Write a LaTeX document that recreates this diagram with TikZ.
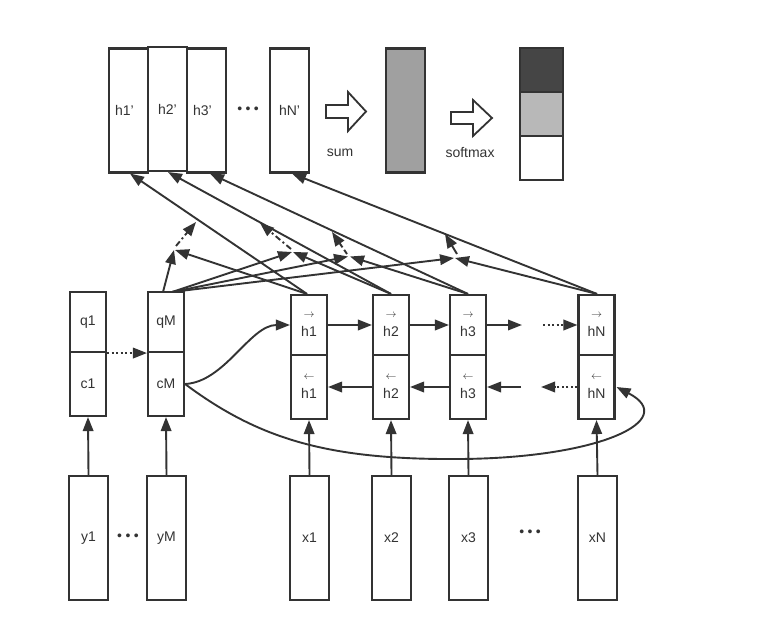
\documentclass[tikz,border=0pt]{standalone}
\usepackage{fontspec}
\setmainfont{Liberation Sans}
\usetikzlibrary{arrows.meta}
\definecolor{ink}{HTML}{333333}
\definecolor{midgray}{HTML}{A0A0A0}
\definecolor{darkcell}{HTML}{454545}
\definecolor{lightcell}{HTML}{B8B8B8}
\newcommand{\threedots}{•\hspace{3.4pt}•\hspace{3.4pt}•}
\newcommand{\fwd}{{\fontsize{11}{11}\selectfont$\rightarrow$}}
\newcommand{\bwd}{{\fontsize{11}{11}\selectfont$\leftarrow$}}
\begin{document}
\begin{tikzpicture}[x=1pt,y=-1pt,
  box/.style={draw=ink, line width=2.1pt, fill=white, minimum width=39pt, minimum height=124pt, inner sep=0pt, text=ink, font=\fontsize{14}{16}\selectfont},
  cell/.style={draw=ink, line width=2.1pt, fill=white, minimum width=36pt, inner sep=0pt, align=center, text=ink, font=\fontsize{14}{19}\selectfont},
  txt/.style={inner sep=0pt, text=ink, font=\fontsize{14}{16}\selectfont},
  link/.style={draw=ink, line width=1.9pt, -{Triangle[length=14pt,width=10.5pt]}},
  blockarrow/.style={draw=ink, line width=1.8pt, fill=white, line join=miter},
  dotline/.style={dash pattern=on 2pt off 2.5pt},
  gatedash/.style={dash pattern=on 6pt off 3pt on 2pt off 3pt},
]
\useasboundingbox (0,0) rectangle (759,631);
% ---------- top row ----------
\node[box] (h1p) at (128.5,110.5) {\hspace*{-8pt}h1’};
\node[box] (h2p) at (167.5,109) {h2’};
\node[box] (h3p) at (206.5,110.5) {\hspace*{-8pt}h3’};
\node[txt] (dtop) at (248,110) {\threedots};
\node[box] (hNp) at (289.5,110.5) {hN’};
\draw[blockarrow] (326,105) -- (348,105) -- (348,92) -- (366,111.5) -- (348,131) -- (348,118) -- (326,118) -- cycle;
\node[txt] (sumlbl) at (340,153) {sum};
\node[box, fill=midgray] (sumbox) at (405.5,110.5) {};
\draw[blockarrow] (451,112) -- (473,112) -- (473,100) -- (492,118) -- (473,136) -- (473,124) -- (451,124) -- cycle;
\node[txt] (smlbl) at (470,153) {softmax};
\node[box, minimum width=43pt, minimum height=44pt, fill=darkcell] (sm1) at (541.5,70) {};
\node[box, minimum width=43pt, minimum height=44pt, fill=lightcell] (sm2) at (541.5,114) {};
\node[box, minimum width=43pt, minimum height=44pt] (sm3) at (541.5,158) {};
% ---------- middle row ----------
\node[cell, minimum height=60pt] (q1) at (88,322) {q1};
\node[cell, minimum height=64pt] (c1) at (88,384) {c1};
\node[cell, minimum height=60pt] (qM) at (166,322) {qM};
\node[cell, minimum height=64pt] (cM) at (166,384) {cM};
\node[cell, minimum height=60pt] (hf1) at (309,325) {\fwd\\h1};
\node[cell, minimum height=64pt] (hb1) at (309,387) {\bwd\\h1};
\node[cell, minimum height=60pt] (hf2) at (391,325) {\fwd\\h2};
\node[cell, minimum height=64pt] (hb2) at (391,387) {\bwd\\h2};
\node[cell, minimum height=60pt] (hf3) at (468,325) {\fwd\\h3};
\node[cell, minimum height=64pt] (hb3) at (468,387) {\bwd\\h3};
\node[cell, minimum height=60pt] (hfN) at (596.5,325) {\fwd\\hN};
\node[cell, minimum height=64pt] (hbN) at (596.5,387) {\bwd\\hN};
% ---------- bottom row ----------
\node[box] (y1) at (88.5,538) {y1};
\node[txt] (dy) at (128,537) {\threedots};
\node[box] (yM) at (166.5,538) {yM};
\node[box] (x1) at (309.5,538) {x1};
\node[box] (x2) at (391.5,538) {x2};
\node[box] (x3) at (468.5,538) {x3};
\node[txt] (dx) at (530,533) {\threedots};
\node[box] (xN) at (597.5,538) {xN};
% ---------- vertical inputs ----------
\draw[link] (y1.north) -- (c1.south);
\draw[link] (yM.north) -- (cM.south);
\draw[link] (x1.north) -- (hb1.south);
\draw[link] (x2.north) -- (hb2.south);
\draw[link] (x3.north) -- (hb3.south);
\draw[link] (xN.north) -- (hbN.south);
% ---------- recurrent links ----------
\draw[link, dotline] (q1.south east) -- (qM.south west);
\draw[link] (hf1.east) -- (hf2.west);
\draw[link] (hf2.east) -- (hf3.west);
\coordinate (f3end) at (522,325);
\draw[link] (hf3.east) -- (f3end);
\coordinate (fNstart) at (543,325);
\draw[link, dotline] (fNstart) -- (hfN.west);
\draw[link] (hb2.west) -- (hb1.east);
\draw[link] (hb3.west) -- (hb2.east);
\coordinate (b3start) at (521,387);
\draw[link] (b3start) -- (hb3.east);
\coordinate (bNend) at (541,387);
\draw[link, dotline] (hbN.west) -- (bNend);
% ---------- curves from cM ----------
\draw[link] (cM.east) .. controls (225,382) and (250,325) .. (hf1.west);
\coordinate (loopbottom) at (460,459);
\draw[link] (cM.east) .. controls (260,440) and (330,460) .. (loopbottom)
  .. controls (600,458) and (680,420) .. ([xshift=1pt]hbN.east);
% ---------- attention ----------
\coordinate (qa) at (163,292);
\coordinate (qb) at (172,292);
\coordinate (gA) at (174,250);
\coordinate (gB) at (292,252);
\coordinate (gC) at (348,256.5);
\coordinate (gD) at (454,258);
\coordinate (s1) at ([xshift=-2pt]hf1.north);
\coordinate (s2) at (hf2.north);
\coordinate (s3) at (hf3.north);
\coordinate (sN) at ([xshift=0.5pt]hfN.north);
% to h'
\draw[link] (s1) -- ([xshift=1.5pt]h1p.south);
\draw[link] (s2) -- ([xshift=0.5pt]h2p.south);
\draw[link] (s3) -- ([xshift=3.5pt]h3p.south);
\draw[link] (sN) -- ([xshift=2.5pt]hNp.south);
% query and keys into gates
\draw[link] (qa) -- (gA);
\draw[link] (qb) -- (gB);
\draw[link] (qb) -- (gC);
\draw[link] (qb) -- (gD);
\draw[link] (s1) -- ([xshift=1pt]gA);
\draw[link] (s2) -- ([xshift=1pt]gB);
\draw[link] (s3) -- ([xshift=2pt]gC);
\draw[link] (sN) -- ([xshift=1pt]gD);
% gate outputs
\coordinate (A1) at (176,246);
\coordinate (Aout) at (196,222);
\coordinate (B1) at (291,249);
\coordinate (Bout) at (260,223);
\coordinate (C1) at (347,254);
\coordinate (Cout) at (332,232);
\coordinate (D1) at (457,254);
\coordinate (Dout) at (445,234);
\draw[link, gatedash] (A1) -- (Aout);
\draw[link, gatedash] (B1) -- (Bout);
\draw[link, dash pattern=on 5pt off 3pt] (C1) -- (Cout);
\draw[link] (D1) -- (Dout);
\end{tikzpicture}
\end{document}
